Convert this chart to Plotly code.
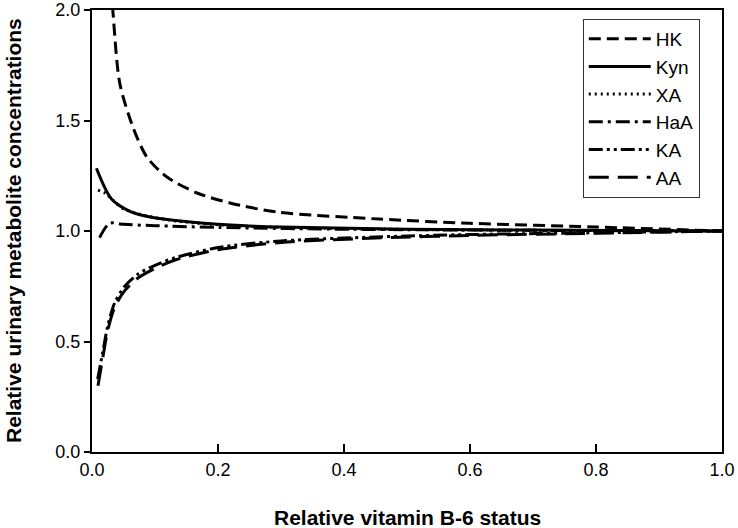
import plotly.graph_objects as go

# ---- data ----
hk_x = [0.030, 0.033, 0.044, 0.065, 0.087, 0.119, 0.167, 0.219, 0.293, 0.456, 0.60, 0.80, 1.00]
hk_y = [2.10, 2.00, 1.67, 1.47, 1.335, 1.244, 1.172, 1.127, 1.086, 1.054, 1.035, 1.018, 1.00]

kyn_x = [0.007, 0.031, 0.062, 0.099, 0.133, 0.22, 0.30, 0.50, 0.70, 1.00]
kyn_y = [1.284, 1.145, 1.087, 1.060, 1.048, 1.027, 1.018, 1.008, 1.004, 1.00]

xa_x = [0.0095, 0.022, 0.033, 0.05, 0.087, 0.14, 0.22, 0.30, 0.50, 0.70, 1.00]
xa_y = [1.185, 1.170, 1.140, 1.100, 1.068, 1.043, 1.025, 1.016, 1.007, 1.003, 1.00]

haa_x = [0.012, 0.028, 0.05, 0.10, 0.20, 0.40, 0.70, 1.00]
haa_y = [0.970, 1.035, 1.030, 1.024, 1.016, 1.008, 1.003, 1.00]

ka_x = [0.009, 0.017, 0.025, 0.036, 0.052, 0.073, 0.10, 0.133, 0.20, 0.30, 0.45, 0.60, 0.80, 1.00]
ka_y = [0.330, 0.450, 0.570, 0.675, 0.750, 0.805, 0.845, 0.880, 0.925, 0.955, 0.973, 0.984, 0.992, 1.00]

aa_x = [0.0095, 0.017, 0.025, 0.036, 0.052, 0.073, 0.10, 0.133, 0.20, 0.30, 0.45, 0.60, 0.80, 1.00]
aa_y = [0.300, 0.425, 0.550, 0.655, 0.730, 0.787, 0.830, 0.870, 0.915, 0.948, 0.968, 0.980, 0.990, 1.00]

x_ticks = [0.0, 0.2, 0.4, 0.6, 0.8, 1.0]
x_tick_labels = ["0.0", "0.2", "0.4", "0.6", "0.8", "1.0"]
y_ticks = [0.0, 0.5, 1.0, 1.5, 2.0]
y_tick_labels = ["0.0", "0.5", "1.0", "1.5", "2.0"]

x_title = "Relative vitamin B-6 status"
y_title = "Relative urinary metabolite concentrations"

series = [
    ("HK", hk_x, hk_y, "12px,6px"),
    ("Kyn", kyn_x, kyn_y, "solid"),
    ("XA", xa_x, xa_y, "2px,4px"),
    ("HaA", haa_x, haa_y, "14px,5px,3px,5px"),
    ("KA", ka_x, ka_y, "14px,4px,3px,4px,3px,4px"),
    ("AA", aa_x, aa_y, "20px,9px"),
]

FONT = "Liberation Sans, Arial, sans-serif"

fig = go.Figure()
for name, xs, ys, dash in series:
    fig.add_trace(go.Scatter(
        x=xs, y=ys, name=name, mode="lines", legendgroup=name,
        line=dict(color="black", width=3, dash=dash, shape="spline", smoothing=0.8),
    ))

fig.update_layout(
    width=738, height=528,
    margin=dict(l=92, r=16, t=10, b=76, autoexpand=False),
    paper_bgcolor="white", plot_bgcolor="white",
    font=dict(family=FONT, color="black", size=18),
    showlegend=True,
    legend=dict(
        x=0.779, y=0.98, xanchor="left", yanchor="top",
        bordercolor="#333333", borderwidth=1, bgcolor="white",
        font=dict(family=FONT, size=19, color="black"),
        itemwidth=62, tracegroupgap=0,
    ),
    annotations=[
        dict(text="<b>%s</b>" % x_title, xref="paper", yref="paper",
             x=0.5, y=-(517 - 452) / 442.0, xanchor="center", yanchor="middle",
             showarrow=False, font=dict(family=FONT, size=21, color="black")),
        dict(text="<b>%s</b>" % y_title, xref="paper", yref="paper",
             x=-(92 - 13) / 630.0, y=0.5, xanchor="center", yanchor="middle",
             textangle=-90, showarrow=False,
             font=dict(family=FONT, size=21, color="black")),
    ],
)
fig.update_xaxes(
    range=[0, 1], tickvals=x_ticks, ticktext=x_tick_labels,
    ticks="inside", ticklen=8, tickwidth=1.5, tickcolor="black",
    showline=True, linecolor="black", linewidth=2, mirror=True,
    showgrid=False, zeroline=False, automargin=False,
    tickfont=dict(family=FONT, size=18, color="black"),
)
fig.update_yaxes(
    range=[0, 2], tickvals=y_ticks, ticktext=y_tick_labels,
    ticks="outside", ticklen=6, tickwidth=1.5, tickcolor="black",
    showline=True, linecolor="black", linewidth=2, mirror=True,
    showgrid=False, zeroline=False, automargin=False,
    tickfont=dict(family=FONT, size=18, color="black"),
)

fig.write_html(
    "out.html",
    config={"displayModeBar": False},
    post_script="document.body.style.margin='0';document.body.style.padding='0';",
)
